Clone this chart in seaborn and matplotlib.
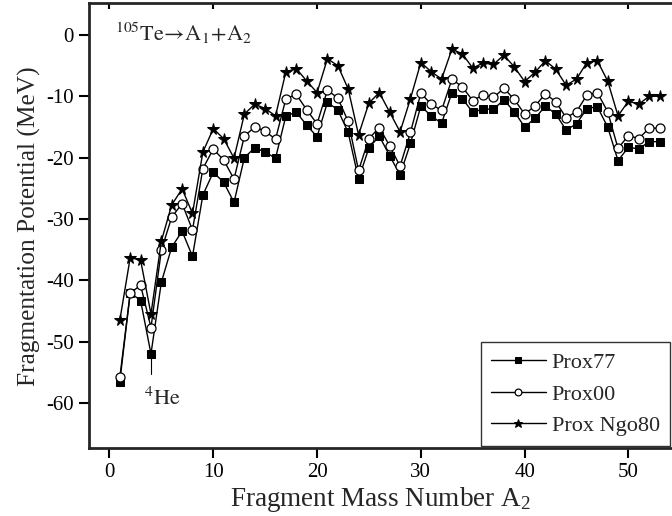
import numpy as np
import pandas as pd
import matplotlib
matplotlib.use("Agg")
import matplotlib.pyplot as plt
import seaborn as sns

sns.set_style("ticks")
plt.rcParams['font.family'] = ['Liberation Serif', 'DejaVu Serif']
plt.rcParams['mathtext.fontset'] = 'custom'
plt.rcParams['mathtext.rm'] = 'Liberation Serif'
plt.rcParams['mathtext.it'] = 'Liberation Serif:italic'
plt.rcParams['axes.unicode_minus'] = False

A2 = list(range(1, 54))

prox77 = [-56.5, -42.0, -43.3, -52.0, -40.3, -34.6, -32.0, -36.1, -26.1, -22.4,
          -24.0, -27.3, -20.0, -18.4, -19.1, -20.1, -13.2, -12.6, -14.7, -16.6,
          -11.0, -12.2, -15.9, -23.5, -18.4, -16.5, -19.7, -22.8, -17.7, -11.6,
          -13.2, -14.4, -9.4, -10.4, -12.6, -12.1, -12.1, -10.6, -12.5, -15.0,
          -13.6, -11.6, -12.9, -15.5, -14.5, -12.0, -11.7, -15.0, -20.5, -18.3,
          -18.6, -17.4, -17.4]

prox00 = [-55.8, -42.1, -40.8, -47.7, -35.1, -29.7, -27.5, -31.8, -21.8, -18.6,
          -20.4, -23.5, -16.5, -15.0, -15.7, -17.0, -10.4, -9.7, -12.2, -14.5,
          -9.0, -10.3, -14.1, -22.1, -16.9, -15.1, -18.1, -21.4, -15.9, -9.5,
          -11.3, -12.3, -7.2, -8.5, -10.7, -9.8, -10.2, -8.7, -10.5, -12.9,
          -11.6, -9.6, -10.9, -13.5, -12.5, -9.8, -9.4, -12.5, -18.5, -16.4,
          -16.9, -15.2, -15.2]

ngo80 = [-46.5, -36.3, -36.7, -45.5, -33.6, -27.7, -25.1, -29.1, -19.1, -15.3,
         -16.9, -20.1, -12.9, -11.3, -12.0, -13.2, -6.0, -5.5, -7.5, -9.4,
         -3.9, -5.0, -8.8, -16.3, -11.1, -9.4, -12.6, -15.8, -10.4, -4.5,
         -6.0, -7.2, -2.3, -3.1, -5.4, -4.6, -4.8, -3.3, -5.2, -7.6,
         -6.1, -4.2, -5.6, -8.2, -7.2, -4.5, -4.2, -7.5, -13.2, -10.8,
         -11.3, -10.0, -10.0]

series_names = ["Prox77", "Prox00", "Prox Ngo80"]
xticks = [0, 10, 20, 30, 40, 50]
yticks = [0, -10, -20, -30, -40, -50, -60]

df = pd.DataFrame({
    "A2": A2 * 3,
    "V": prox77 + prox00 + ngo80,
    "series": [series_names[0]] * len(A2) + [series_names[1]] * len(A2) + [series_names[2]] * len(A2),
})

fig = plt.figure(figsize=(6.72, 5.16), dpi=100)
ax = fig.add_axes([88.7 / 672, (516 - 448.4) / 516, (672 - 88.7) / 672, (448.4 - 3) / 516])

styles = {
    "Prox77": dict(marker="s", markerfacecolor="black", markeredgecolor="black", markersize=5.8),
    "Prox00": dict(marker="o", markerfacecolor="white", markeredgecolor="black", markersize=6.5, markeredgewidth=0.9),
    "Prox Ngo80": dict(marker="*", markerfacecolor="black", markeredgecolor="black", markersize=8.5),
}

for name in series_names:
    sub = df[df["series"] == name]
    sns.lineplot(data=sub, x="A2", y="V", ax=ax, color="black", linewidth=1.0,
                 label=name, **styles[name])

ax.set_xlim(-2, 54.2)
ax.set_ylim(-67.4, 5.2)
ax.set_xticks(xticks)
ax.set_yticks(yticks)
ax.set_xticklabels([str(t) for t in xticks])
ax.set_yticklabels([str(t) for t in yticks])

for s in ["left", "bottom", "top"]:
    ax.spines[s].set_linewidth(2.0)
ax.spines["right"].set_visible(False)

ax.tick_params(axis="both", which="major", direction="out", length=7, width=1.5,
               labelsize=15, colors="black")
ax.tick_params(top=True, labeltop=False)
for t in ax.xaxis.get_major_ticks():
    t.tick2line.set_markersize(4)
    t.tick2line.set_marker(matplotlib.markers.TICKDOWN)

ax.set_xlabel("Fragment Mass Number A$_2$", fontsize=19.5, labelpad=2)
ax.set_ylabel("Fragmentation Potential (MeV)", fontsize=18.3, labelpad=4)

ax.text(0.5, 0.2, r"$^{105}\mathrm{Te}\!\rightarrow\!\mathrm{A}_1\!+\!\mathrm{A}_2$",
        fontsize=16, ha="left", va="center", math_fontfamily="stix")
ax.plot([4, 4], [-52.0, -55.3], color="black", linewidth=0.8)
ax.text(5.1, -59.3, r"$^4\mathrm{He}$", fontsize=16, ha="center", va="center",
        math_fontfamily="stix")

leg = ax.legend(loc="lower right", fontsize=16, frameon=True, fancybox=False,
                handlelength=2.5, borderpad=0.45, labelspacing=0.5,
                handletextpad=0.25, borderaxespad=0.1, markerscale=0.75,
                bbox_to_anchor=(1.0, 0.0))
leg.get_frame().set_edgecolor("black")
leg.get_frame().set_linewidth(1.0)

fig.savefig("out.png", dpi=100)
